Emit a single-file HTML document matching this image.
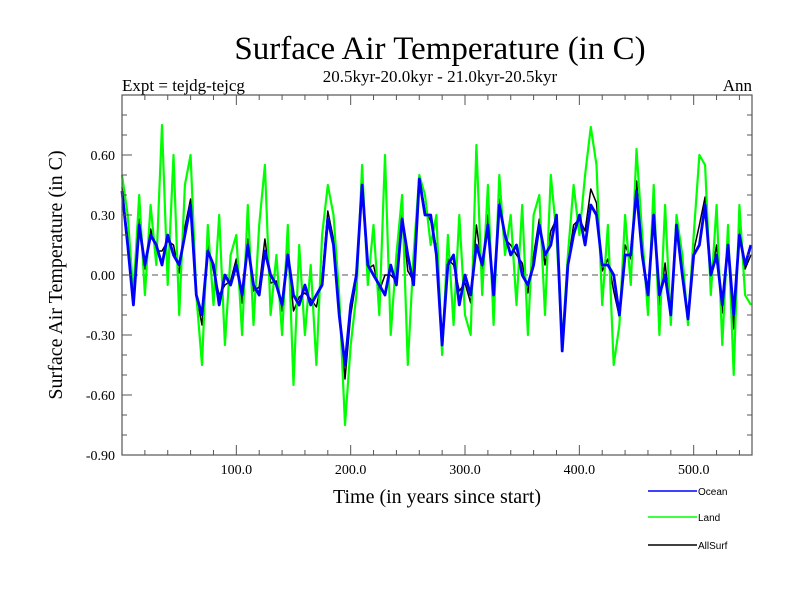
<!DOCTYPE html>
<html><head><meta charset="utf-8"><style>
html,body{margin:0;padding:0;background:#fff;}
svg{display:block;font-family:"Liberation Serif",serif;}
</style></head><body>
<svg id="chart" width="800" height="600" viewBox="0 0 800 600" xmlns="http://www.w3.org/2000/svg">
<text x="440" y="59" font-size="33" text-anchor="middle">Surface Air Temperature (in C)</text>
<text x="440" y="82" font-size="17" text-anchor="middle">20.5kyr-20.0kyr - 21.0kyr-20.5kyr</text>
<text x="122" y="91" font-size="17">Expt = tejdg-tejcg</text>
<text x="752" y="91" font-size="17" text-anchor="end">Ann</text>
<text transform="translate(62,275) rotate(-90)" font-size="20" text-anchor="middle">Surface Air Temperature (in C)</text>
<text x="437" y="503" font-size="20" text-anchor="middle">Time (in years since start)</text>
<g id="grid"></g>
<g id="series"></g>
<rect x="122" y="95" width="630" height="360" fill="none" stroke="#555" stroke-width="1.2"/>
<g id="ticks"></g>
<g id="legend" font-family="Liberation Sans, sans-serif" font-size="10"></g>
</svg>
<script>
const years = [];
for (let i = 0; i <= 110; i++) years.push(i * 5);
const ocean = [0.42,0.15,-0.15,0.25,0.05,0.2,0.15,0.05,0.2,0.1,0.05,0.2,0.35,-0.1,-0.2,0.12,0.05,-0.15,0.0,-0.05,0.05,-0.1,0.15,-0.05,-0.1,0.12,0.0,-0.05,-0.15,0.1,-0.1,-0.15,-0.05,-0.15,-0.1,-0.05,0.28,0.15,-0.2,-0.45,-0.15,0.0,0.45,0.05,0.0,-0.05,-0.1,0.05,-0.05,0.28,0.1,-0.05,0.48,0.3,0.3,0.1,-0.35,0.05,0.1,-0.15,0.0,-0.1,0.15,0.05,0.25,-0.1,0.35,0.2,0.1,0.15,0.0,-0.05,0.05,0.25,0.1,0.15,0.3,-0.38,0.05,0.2,0.3,0.15,0.35,0.3,0.05,0.05,0.0,-0.2,0.1,0.1,0.42,0.1,-0.1,0.3,-0.1,0.0,-0.2,0.25,0.0,-0.22,0.1,0.15,0.35,0.0,0.1,-0.15,0.15,-0.2,0.2,0.05,0.15];
const land = [0.5,0.3,-0.1,0.4,-0.1,0.35,0.05,0.75,-0.05,0.6,-0.2,0.45,0.6,-0.1,-0.45,0.25,-0.15,0.3,-0.35,0.1,0.2,-0.3,0.35,-0.25,0.25,0.55,-0.2,0.1,-0.3,0.25,-0.55,0.15,-0.3,0.05,-0.45,0.2,0.45,0.3,-0.1,-0.75,-0.35,-0.1,0.55,-0.05,0.25,-0.2,0.6,-0.3,0.1,0.4,-0.45,0.1,0.5,0.4,0.15,0.3,-0.4,0.2,-0.25,0.3,-0.2,-0.3,0.65,-0.1,0.45,-0.25,0.5,0.1,0.3,-0.15,0.35,-0.3,0.3,0.4,-0.2,0.5,0.2,-0.35,0.1,0.45,0.2,0.5,0.74,0.55,-0.15,0.25,-0.45,-0.25,0.3,-0.05,0.63,0.2,-0.2,0.45,-0.3,0.35,-0.25,0.3,0.1,-0.25,0.2,0.6,0.55,-0.1,0.35,-0.35,0.25,-0.5,0.35,-0.1,-0.15];
const allsurf = [0.44,0.18,-0.14,0.28,0.03,0.23,0.12,0.12,0.17,0.15,0.01,0.24,0.38,-0.1,-0.25,0.15,0.02,-0.1,-0.05,-0.03,0.08,-0.14,0.18,-0.08,-0.06,0.18,-0.04,-0.03,-0.18,0.13,-0.18,-0.11,-0.09,-0.12,-0.16,-0.02,0.32,0.18,-0.18,-0.52,-0.2,-0.02,0.48,0.03,0.05,-0.08,0.0,0.0,-0.03,0.3,0.02,-0.03,0.49,0.32,0.27,0.14,-0.36,0.08,0.05,-0.08,-0.04,-0.14,0.25,0.03,0.3,-0.13,0.38,0.18,0.15,0.1,0.06,-0.09,0.1,0.28,0.05,0.22,0.28,-0.37,0.06,0.25,0.28,0.22,0.43,0.36,0.02,0.08,-0.08,-0.21,0.15,0.08,0.47,0.13,-0.12,0.34,-0.15,0.06,-0.21,0.26,0.02,-0.22,0.12,0.25,0.39,-0.01,0.15,-0.19,0.17,-0.27,0.24,0.03,0.1];
const yTicks = [-0.90,-0.60,-0.30,0.00,0.30,0.60];
const yTickLabels = ["-0.90","-0.60","-0.30","0.00","0.30","0.60"];
const xTicks = [100,200,300,400,500];
const xTickLabels = ["100.0","200.0","300.0","400.0","500.0"];

const X0 = 122, X1 = 752, Y0 = 455, Y1 = 95;
const xMin = 0, xMax = 551, yMin = -0.9, yMax = 0.9;
const xs = v => X0 + (v - xMin) / (xMax - xMin) * (X1 - X0);
const ys = v => Y0 - (v - yMin) / (yMax - yMin) * (Y0 - Y1);
const NS = "http://www.w3.org/2000/svg";
function mk(tag, attrs, parent) {
  const e = document.createElementNS(NS, tag);
  for (const k in attrs) e.setAttribute(k, attrs[k]);
  parent.appendChild(e);
  return e;
}
const ticksG = document.getElementById('ticks');
const gridG = document.getElementById('grid');
const seriesG = document.getElementById('series');
const legendG = document.getElementById('legend');

const zl = mk('line', {x1: X0, x2: X1, y1: ys(0), y2: ys(0), stroke: '#777', 'stroke-width': 1.2, 'stroke-dasharray': '6,4'}, gridG);



for (let v = -0.9; v <= 0.9001; v += 0.1) {
  const y = ys(v);
  const a = mk('line', {x1: X0, x2: X0 + 5, y1: y, y2: y, stroke: '#555'}, ticksG);
  
  
  const b = mk('line', {x1: X1, x2: X1 - 5, y1: y, y2: y, stroke: '#555'}, ticksG);
  
  
}
for (let v = 20; v <= 540; v += 20) {
  const x = xs(v);
  const len = (v % 100 === 0) ? 10 : 5;
  const a = mk('line', {x1: x, x2: x, y1: Y0, y2: Y0 - len, stroke: '#555'}, ticksG);
  
  
  const b = mk('line', {x1: x, x2: x, y1: Y1, y2: Y1 + len, stroke: '#555'}, ticksG);
  
  
}
yTicks.forEach((v, i) => {
  const y = ys(v);
  const t = mk('line', {x1: X0, x2: X0 + 10, y1: y, y2: y, stroke: '#555'}, ticksG);
  
  
  const l = mk('text', {x: X0 - 7, y: y + 5, 'font-size': 14, 'text-anchor': 'end'}, ticksG);
  l.textContent = yTickLabels[i];
  
  
});
xTicks.forEach((v, i) => {
  const l = mk('text', {x: xs(v), y: Y0 + 19, 'font-size': 14, 'text-anchor': 'middle'}, ticksG);
  l.textContent = xTickLabels[i];
  
  
});

function series(vals, color, w, name) {
  const d = vals.map((v, i) => (i ? 'L' : 'M') + xs(years[i]).toFixed(1) + ',' + ys(v).toFixed(1)).join('');
  const p = mk('path', {d: d, fill: 'none', stroke: color, 'stroke-width': w, 'stroke-linejoin': 'round'}, seriesG);
  
  
}
series(allsurf, '#000', 1.5, 'allsurf-line');
series(land, '#00ff00', 2.2, 'land-line');
series(ocean, '#0000ff', 2.8, 'ocean-line');

const legendItems = [['Ocean', '#0000ff', 491], ['Land', '#00ff00', 517], ['AllSurf', '#000', 545]];
legendItems.forEach(it => {
  const g = mk('g', {}, legendG);
  
  
  mk('line', {x1: 648, x2: 697, y1: it[2], y2: it[2], stroke: it[1], 'stroke-width': 1.5}, g);
  const t = mk('text', {x: 698, y: it[2] + 4}, g);
  t.textContent = it[0];
});
</script>
</body></html>
